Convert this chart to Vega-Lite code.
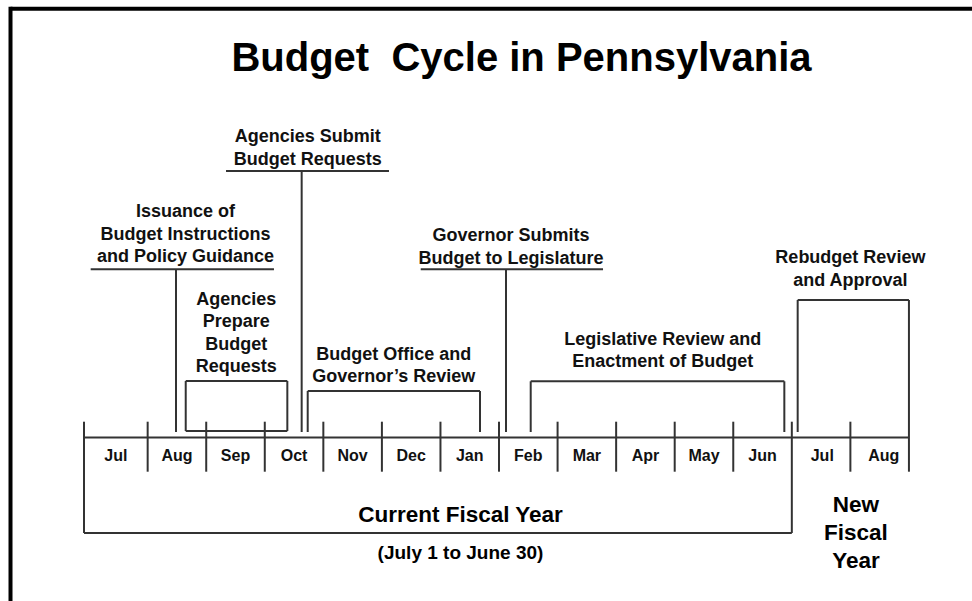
{
  "$schema": "https://vega.github.io/schema/vega-lite/v6.json",
  "width": 972,
  "height": 601,
  "autosize": {"type": "fit", "contains": "padding"},
  "padding": 0,
  "background": "white",
  "config": {"view": {"stroke": null}},
  "datasets": {
    "frame": [
      {"x": -1.342, "y": 8.7, "x2": 15.3, "y2": 8.7},
      {"x": -1.342, "y": 6.7, "x2": -1.342, "y2": 610}
    ],
    "segments": [
      {"part": "timeline", "x": -0.087, "y": 437.5, "x2": 14, "y2": 437.5},
      {"part": "tick", "x": -0.087, "y": 421.7, "x2": -0.087, "y2": 533},
      {"part": "tick", "x": 1, "y": 421.7, "x2": 1, "y2": 471.7},
      {"part": "tick", "x": 2, "y": 421.7, "x2": 2, "y2": 471.7},
      {"part": "tick", "x": 3, "y": 421.7, "x2": 3, "y2": 471.7},
      {"part": "tick", "x": 4, "y": 421.7, "x2": 4, "y2": 471.7},
      {"part": "tick", "x": 5, "y": 421.7, "x2": 5, "y2": 471.7},
      {"part": "tick", "x": 6, "y": 421.7, "x2": 6, "y2": 471.7},
      {"part": "tick", "x": 7, "y": 421.7, "x2": 7, "y2": 471.7},
      {"part": "tick", "x": 8, "y": 421.7, "x2": 8, "y2": 471.7},
      {"part": "tick", "x": 9, "y": 421.7, "x2": 9, "y2": 471.7},
      {"part": "tick", "x": 10, "y": 421.7, "x2": 10, "y2": 471.7},
      {"part": "tick", "x": 11, "y": 421.7, "x2": 11, "y2": 471.7},
      {"part": "tick", "x": 12, "y": 421.7, "x2": 12, "y2": 533},
      {"part": "tick", "x": 13, "y": 421.7, "x2": 13, "y2": 471.7},
      {"part": "tick", "x": 14, "y": 300, "x2": 14, "y2": 471.7},
      {"part": "fiscal", "x": -0.087, "y": 533, "x2": 12, "y2": 533},
      {"part": "issuance", "x": 0.027, "y": 269.3, "x2": 3.157, "y2": 269.3},
      {"part": "issuance", "x": 1.484, "y": 269.3, "x2": 1.484, "y2": 432},
      {"part": "prepare", "x": 1.65, "y": 381, "x2": 3.385, "y2": 381},
      {"part": "prepare", "x": 1.65, "y": 431, "x2": 3.385, "y2": 431},
      {"part": "prepare", "x": 1.65, "y": 381, "x2": 1.65, "y2": 431},
      {"part": "prepare", "x": 3.385, "y": 381, "x2": 3.385, "y2": 431},
      {"part": "submit", "x": 2.338, "y": 171, "x2": 5.121, "y2": 171},
      {"part": "submit", "x": 3.63, "y": 171, "x2": 3.63, "y2": 432},
      {"part": "review", "x": 3.733, "y": 391, "x2": 6.675, "y2": 391},
      {"part": "review", "x": 3.733, "y": 391, "x2": 3.733, "y2": 432},
      {"part": "review", "x": 6.675, "y": 391, "x2": 6.675, "y2": 432},
      {"part": "governor", "x": 5.663, "y": 269.3, "x2": 8.776, "y2": 269.3},
      {"part": "governor", "x": 7.119, "y": 269.3, "x2": 7.119, "y2": 432},
      {"part": "legislative", "x": 7.541, "y": 381.3, "x2": 11.872, "y2": 381.3},
      {"part": "legislative", "x": 7.541, "y": 381.3, "x2": 7.541, "y2": 432},
      {"part": "legislative", "x": 11.872, "y": 381.3, "x2": 11.872, "y2": 432},
      {"part": "rebudget", "x": 12.1, "y": 300, "x2": 14, "y2": 300},
      {"part": "rebudget", "x": 12.1, "y": 300, "x2": 12.1, "y2": 432}
    ],
    "texts": [
      {"kind": "title", "text": "Budget\u00a0 Cycle in Pennsylvania", "x": 7.384, "y": 71},
      {"kind": "label", "text": "Issuance of", "x": 1.646, "y": 217},
      {"kind": "label", "text": "Budget Instructions", "x": 1.646, "y": 239.5},
      {"kind": "label", "text": "and Policy Guidance", "x": 1.646, "y": 262},
      {"kind": "label", "text": "Agencies", "x": 2.512, "y": 304.5},
      {"kind": "label", "text": "Prepare", "x": 2.512, "y": 327},
      {"kind": "label", "text": "Budget", "x": 2.512, "y": 349.5},
      {"kind": "label", "text": "Requests", "x": 2.512, "y": 372},
      {"kind": "label", "text": "Agencies Submit", "x": 3.733, "y": 142},
      {"kind": "label", "text": "Budget Requests", "x": 3.733, "y": 164.5},
      {"kind": "label", "text": "Budget Office and", "x": 5.202, "y": 359.5},
      {"kind": "label", "text": "Governor’s Review", "x": 5.202, "y": 382},
      {"kind": "label", "text": "Governor Submits", "x": 7.205, "y": 241},
      {"kind": "label", "text": "Budget to Legislature", "x": 7.205, "y": 263.5},
      {"kind": "label", "text": "Legislative Review and", "x": 9.797, "y": 344.5},
      {"kind": "label", "text": "Enactment of Budget", "x": 9.797, "y": 367},
      {"kind": "label", "text": "Rebudget Review", "x": 13.0, "y": 263},
      {"kind": "label", "text": "and Approval", "x": 13.0, "y": 285.5},
      {"kind": "month", "text": "Jul", "x": 0.457, "y": 460.7},
      {"kind": "month", "text": "Aug", "x": 1.5, "y": 460.7},
      {"kind": "month", "text": "Sep", "x": 2.5, "y": 460.7},
      {"kind": "month", "text": "Oct", "x": 3.5, "y": 460.7},
      {"kind": "month", "text": "Nov", "x": 4.5, "y": 460.7},
      {"kind": "month", "text": "Dec", "x": 5.5, "y": 460.7},
      {"kind": "month", "text": "Jan", "x": 6.5, "y": 460.7},
      {"kind": "month", "text": "Feb", "x": 7.5, "y": 460.7},
      {"kind": "month", "text": "Mar", "x": 8.5, "y": 460.7},
      {"kind": "month", "text": "Apr", "x": 9.5, "y": 460.7},
      {"kind": "month", "text": "May", "x": 10.5, "y": 460.7},
      {"kind": "month", "text": "Jun", "x": 11.5, "y": 460.7},
      {"kind": "month", "text": "Jul", "x": 12.52, "y": 460.7},
      {"kind": "month", "text": "Aug", "x": 13.57, "y": 460.7},
      {"kind": "fy", "text": "Current Fiscal Year", "x": 6.342, "y": 522},
      {"kind": "fy", "text": "New", "x": 13.095, "y": 511.7},
      {"kind": "fy", "text": "Fiscal", "x": 13.095, "y": 540},
      {"kind": "fy", "text": "Year", "x": 13.095, "y": 568.3},
      {"kind": "sub", "text": "(July 1 to June 30)", "x": 6.342, "y": 559}
    ]
  },
  "layer": [
    {
      "data": {"name": "frame"},
      "mark": {"type": "rule", "color": "#000000", "strokeWidth": 4, "clip": true},
      "encoding": {
        "x": {"field": "x", "type": "quantitative", "scale": {"domain": [-1.5215, 15.0768], "zero": false, "nice": false}, "axis": null},
        "x2": {"field": "x2"},
        "y": {"field": "y", "type": "quantitative", "scale": {"domain": [0, 601], "reverse": true, "zero": false, "nice": false}, "axis": null},
        "y2": {"field": "y2"}
      }
    },
    {
      "data": {"name": "segments"},
      "mark": {"type": "rule", "color": "#333333", "strokeWidth": 2},
      "encoding": {
        "x": {"field": "x", "type": "quantitative", "scale": {"domain": [-1.5215, 15.0768], "zero": false, "nice": false}, "axis": null},
        "x2": {"field": "x2"},
        "y": {"field": "y", "type": "quantitative", "scale": {"domain": [0, 601], "reverse": true, "zero": false, "nice": false}, "axis": null},
        "y2": {"field": "y2"}
      }
    },
    {
      "data": {"name": "texts"},
      "transform": [{"filter": "datum.kind === 'title'"}],
      "mark": {"type": "text", "font": "Liberation Sans", "fontWeight": "bold", "fontSize": 40, "align": "center", "baseline": "alphabetic", "color": "#000000"},
      "encoding": {
        "x": {"field": "x", "type": "quantitative"},
        "y": {"field": "y", "type": "quantitative"},
        "text": {"field": "text", "type": "nominal"}
      }
    },
    {
      "data": {"name": "texts"},
      "transform": [{"filter": "datum.kind === 'label'"}],
      "mark": {"type": "text", "font": "Liberation Sans", "fontWeight": "bold", "fontSize": 18, "align": "center", "baseline": "alphabetic", "color": "#111111"},
      "encoding": {
        "x": {"field": "x", "type": "quantitative"},
        "y": {"field": "y", "type": "quantitative"},
        "text": {"field": "text", "type": "nominal"}
      }
    },
    {
      "data": {"name": "texts"},
      "transform": [{"filter": "datum.kind === 'month'"}],
      "mark": {"type": "text", "font": "Liberation Sans", "fontWeight": "bold", "fontSize": 16, "align": "center", "baseline": "alphabetic", "color": "#111111"},
      "encoding": {
        "x": {"field": "x", "type": "quantitative"},
        "y": {"field": "y", "type": "quantitative"},
        "text": {"field": "text", "type": "nominal"}
      }
    },
    {
      "data": {"name": "texts"},
      "transform": [{"filter": "datum.kind === 'fy'"}],
      "mark": {"type": "text", "font": "Liberation Sans", "fontWeight": "bold", "fontSize": 22.5, "align": "center", "baseline": "alphabetic", "color": "#000000"},
      "encoding": {
        "x": {"field": "x", "type": "quantitative"},
        "y": {"field": "y", "type": "quantitative"},
        "text": {"field": "text", "type": "nominal"}
      }
    },
    {
      "data": {"name": "texts"},
      "transform": [{"filter": "datum.kind === 'sub'"}],
      "mark": {"type": "text", "font": "Liberation Sans", "fontWeight": "bold", "fontSize": 19, "align": "center", "baseline": "alphabetic", "color": "#000000"},
      "encoding": {
        "x": {"field": "x", "type": "quantitative"},
        "y": {"field": "y", "type": "quantitative"},
        "text": {"field": "text", "type": "nominal"}
      }
    }
  ]
}
